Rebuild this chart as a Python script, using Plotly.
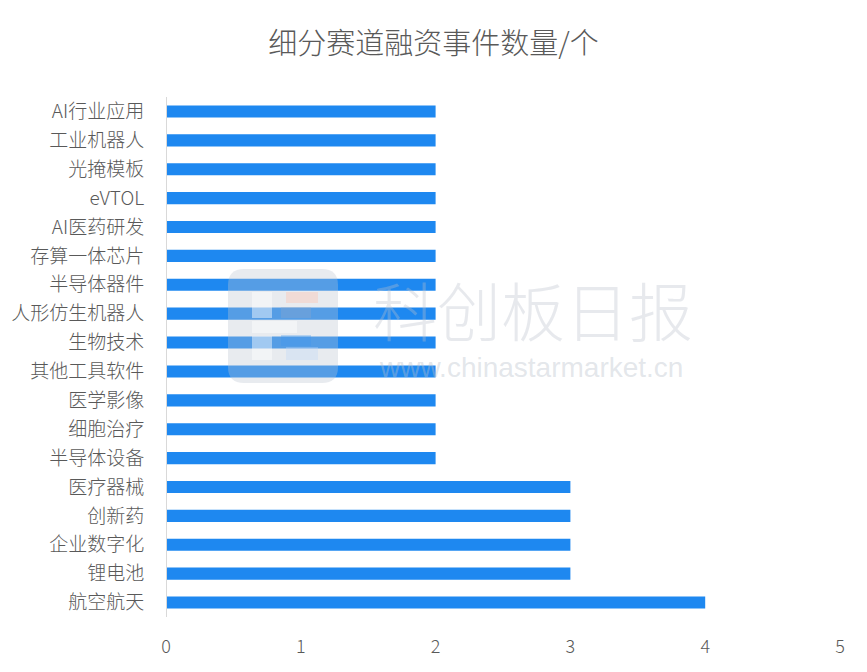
import plotly.graph_objects as go

categories = ["AI行业应用", "工业机器人", "光掩模板", "eVTOL", "AI医药研发", "存算一体芯片",
              "半导体器件", "人形仿生机器人", "生物技术", "其他工具软件", "医学影像", "细胞治疗",
              "半导体设备", "医疗器械", "创新药", "企业数字化", "锂电池", "航空航天"]
values = [2, 2, 2, 2, 2, 2, 2, 2, 2, 2, 2, 2, 2, 3, 3, 3, 3, 4]
tick_vals = [0, 1, 2, 3, 4, 5]

W, H = 867, 672
ML, MR, MT, MB = 166, 27, 97, 55
PW, PH = W - ML - MR, H - MT - MB

def px(x):
    return (x - ML) / PW

def py(y):
    return (H - MB - y) / PH

fig = go.Figure(go.Bar(
    x=values, y=categories, orientation="h",
    marker=dict(color="#1E88F0", line=dict(width=0)),
    hoverinfo="x+y",
))

shapes = []
def rect(x0, y0, x1, y1, color):
    shapes.append(dict(type="rect", xref="paper", yref="paper",
                       x0=px(x0), x1=px(x1), y0=py(y1), y1=py(y0),
                       fillcolor=color, line=dict(width=0), layer="above"))

x0, y0, x1, y1, r = 228, 269, 338, 383, 16
path = (f"M {x0+r},{y0} L {x1-r},{y0} Q {x1},{y0} {x1},{y0+r} L {x1},{y1-r} Q {x1},{y1} {x1-r},{y1} "
        f"L {x0+r},{y1} Q {x0},{y1} {x0},{y1-r} L {x0},{y0+r} Q {x0},{y0} {x0+r},{y0} Z")
shapes.append(dict(type="path", xref="paper", yref="paper",
                   path=" ".join(
                       (f"{px(float(a.split(',')[0]))},{py(float(a.split(',')[1]))}" if "," in a else a)
                       for a in path.split()),
                   fillcolor="rgba(190,198,208,0.35)", line=dict(width=0), layer="above"))
rect(252, 292, 272, 318, "rgba(255,255,255,0.45)")
rect(252, 321, 297, 333, "rgba(255,255,255,0.45)")
rect(252, 336, 272, 360, "rgba(255,255,255,0.45)")
rect(286, 292, 318, 303, "rgba(255,190,170,0.35)")
rect(281, 307, 311, 318, "rgba(150,170,200,0.3)")
rect(281, 335, 311, 346, "rgba(60,150,240,0.3)")
rect(286, 347, 318, 360, "rgba(190,215,250,0.35)")

shapes.append(dict(type="line", xref="x", yref="paper", x0=0, x1=0, y0=0, y1=1,
                   line=dict(color="#D9D9D9", width=2), layer="above"))

annotations = [
    dict(text="科创板日报", xref="paper", yref="paper", x=px(533), y=py(308),
         showarrow=False, font=dict(family="Noto Sans CJK SC", size=64, weight=300,
                                    color="rgba(185,192,202,0.35)")),
    dict(text="www.chinastarmarket.cn", xref="paper", yref="paper", x=px(531), y=py(368),
         showarrow=False, font=dict(family="Liberation Sans", size=28, color="rgba(185,192,202,0.4)")),
]

fig.update_layout(
    width=W, height=H,
    margin=dict(l=ML, r=MR, t=MT, b=MB, autoexpand=False),
    paper_bgcolor="white", plot_bgcolor="white",
    title=dict(text="细分赛道融资事件数量/个", x=0.5, xanchor="center", y=1 - 44 / H, yanchor="middle",
               font=dict(family="Noto Sans CJK SC", size=29, weight=300, color="#595959")),
    font=dict(family="Noto Sans CJK SC", color="#595959"),
    bargap=0.58,
    showlegend=False,
    shapes=shapes,
    annotations=annotations,
    xaxis=dict(range=[0, 5], tickvals=tick_vals, showgrid=False, zeroline=False, showline=False,
               automargin=False, ticks="outside", ticklen=13, tickcolor="rgba(0,0,0,0)",
               tickfont=dict(family="Noto Sans CJK SC", size=18, weight=300, color="#595959")),
    yaxis=dict(categoryorder="array", categoryarray=categories[::-1], showgrid=False, zeroline=False,
               automargin=False, showline=False, ticks="outside", ticklen=17, tickcolor="rgba(0,0,0,0)",
               tickfont=dict(family="Noto Sans CJK SC", size=19, weight=300, color="#595959")),
)

fig.write_html("out.html", config={"displayModeBar": False},
               post_script="document.body.style.margin='0';")
